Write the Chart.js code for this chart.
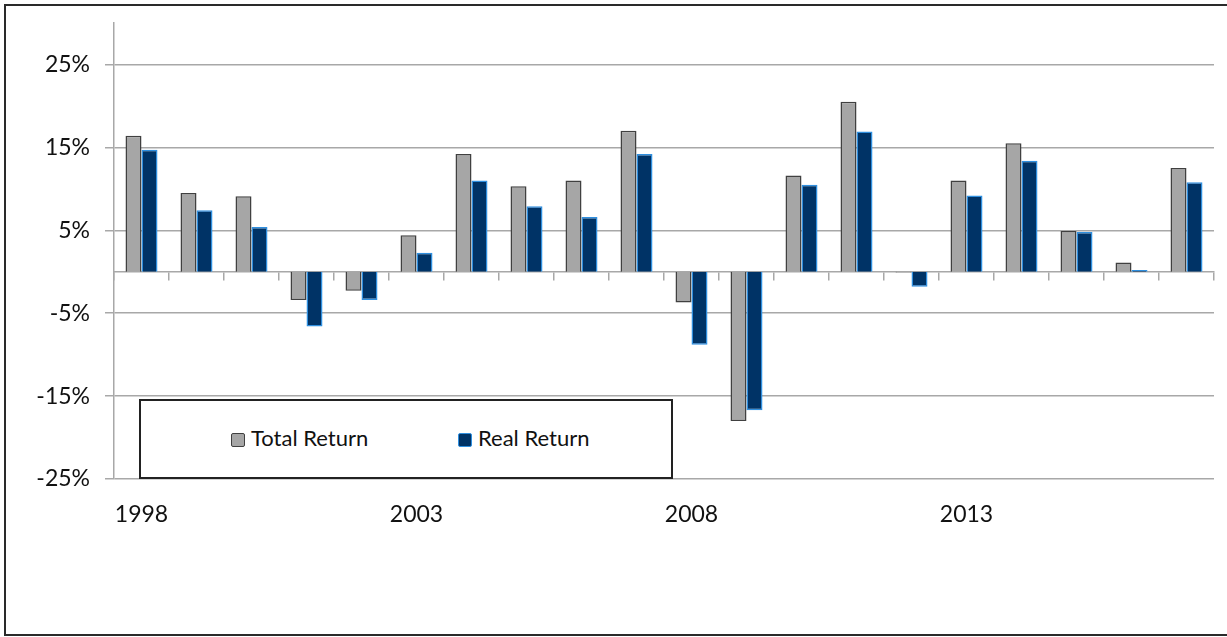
<!DOCTYPE html>
<html>
<head>
<meta charset="utf-8">
<script src="https://cdn.jsdelivr.net/npm/chart.js@4.4.1/dist/chart.umd.min.js"></script>
<style>
    body { margin: 0; background: #fff; }
    #wrap { position: absolute; left: 0; top: 0; width: 1227px; height: 637px; }
    #frame { position: absolute; left: 4px; top: 4px; width: 1226px; height: 632px;
             border: 2px solid #2a2a2a; box-sizing: border-box; pointer-events: none; }
    #legendBox { position: absolute; left: 139px; top: 399px; width: 534px; height: 80px;
                 border: 2px solid #222; box-sizing: border-box; background: #fff;
                 font-family: Lato, "Liberation Sans", sans-serif; font-size: 22px; color: #111; }
    .item { position: absolute; top: 23px; line-height: 28px; white-space: nowrap; }
    .swatch { display: inline-block; width: 14px; height: 14px; box-sizing: border-box;
              border-radius: 2px; vertical-align: -1px; margin-right: 6px; }
</style>
</head>
<body>
<div id="wrap">
    <canvas id="returns" width="1227" height="637"></canvas>
</div>
<div id="legendBox">
    <div class="item" style="left: 90px;"><span class="swatch" style="background:#a6a6a6;border:1.5px solid #404040;"></span>Total Return</div>
    <div class="item" style="left: 317px;"><span class="swatch" style="background:#003366;border:1.5px solid #2f8fdf;"></span>Real Return</div>
</div>
<div id="frame"></div>

<script>
const years = ['1998', '1999', '2000', '2001', '2002', '2003', '2004', '2005', '2006', '2007',
               '2008', '2009', '2010', '2011', '2012', '2013', '2014', '2015', '2016', '2017'];
const totalReturn = [16.4, 9.5, 9.1, -3.4, -2.3, 4.4, 14.2, 10.3, 11.0, 17.0,
                     -3.7, -18.0, 11.6, 20.5, -0.1, 11.0, 15.5, 4.9, 1.1, 12.5];
const realReturn = [14.7, 7.4, 5.4, -6.6, -3.4, 2.3, 11.0, 7.9, 6.6, 14.2,
                    -8.8, -16.7, 10.5, 16.9, -1.8, 9.2, 13.4, 4.8, 0.2, 10.8];
const yTicks = [-25, -15, -5, 5, 15, 25];

const gridGray = '#a8a8a8';
const textFont = { family: 'Lato, "Liberation Sans", sans-serif', size: 23 };

const ctx = document.getElementById('returns').getContext('2d');
new Chart(ctx, {
    type: 'bar',
    data: {
        labels: years,
        datasets: [{
            label: 'Total Return',
            data: totalReturn,
            backgroundColor: '#a6a6a6',
            borderColor: '#404040',
            borderWidth: 1.5
        }, {
            label: 'Real Return',
            data: realReturn,
            backgroundColor: '#003366',
            borderColor: '#2f8fdf',
            borderWidth: 1.5
        }]
    },
    options: {
        responsive: false,
        animation: false,
        categoryPercentage: 32 / 55,
        barPercentage: 1.0,
        layout: {
            padding: { top: 23, right: 13, bottom: 108, left: 0 }
        },
        plugins: {
            legend: { display: false },
            tooltip: { enabled: false }
        },
        scales: {
            // zero line with tick marks between categories
            x: {
                type: 'category',
                position: { y: 0 },
                grid: {
                    offset: true,
                    drawOnChartArea: false,
                    drawTicks: true,
                    tickLength: 8,
                    color: gridGray,
                    lineWidth: 1.5
                },
                border: { display: true, color: gridGray, width: 1.5 },
                ticks: { display: false },
                afterFit: function (scale) {
                    scale.height = 0;
                }
            },
            // year labels along the bottom
            x2: {
                type: 'category',
                position: 'bottom',
                labels: years,
                grid: { display: false, drawTicks: false },
                border: { display: false },
                ticks: {
                    autoSkip: false,
                    maxRotation: 0,
                    padding: 22,
                    color: '#111',
                    font: textFont,
                    callback: function (val, i) {
                        return i % 5 === 0 ? years[i] : '';
                    }
                },
                afterFit: function (scale) {
                    scale.height = 50;
                }
            },
            y: {
                min: -25,
                max: 30,
                afterBuildTicks: function (scale) {
                    scale.ticks = yTicks.map(v => ({ value: v }));
                },
                afterFit: function (scale) {
                    scale.width = 114;
                    scale.paddingTop = 0;
                    scale.paddingBottom = 0;
                },
                grid: {
                    color: gridGray,
                    lineWidth: 1.5,
                    drawTicks: true,
                    tickLength: 9
                },
                border: { display: true, color: gridGray, width: 1.5 },
                ticks: {
                    padding: 15,
                    color: '#111',
                    font: textFont,
                    callback: v => v + '%'
                }
            }
        }
    }
});
</script>
</body>
</html>
